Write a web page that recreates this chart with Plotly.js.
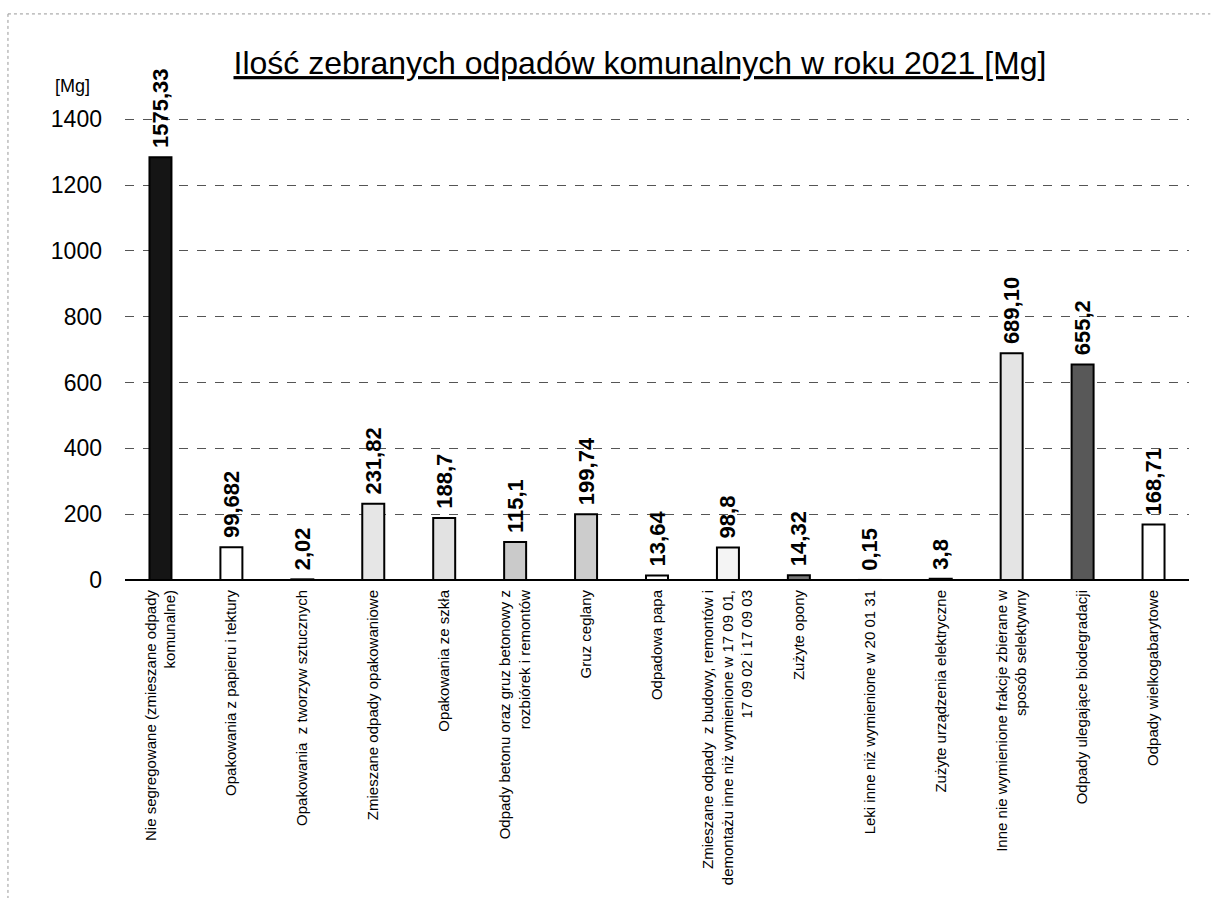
<!DOCTYPE html>
<html>
<head>
<meta charset="utf-8">
<script src="https://cdn.plot.ly/plotly-3.0.1.min.js"></script>
<style>html,body{margin:0;padding:0;background:#fff;}#chart{width:1212px;height:898px;}</style>
</head>
<body>
<div id="chart"></div>
<script>
const categories = [
  "Nie segregowane (zmieszane odpady<br>komunalne)",
  "Opakowania z papieru i tektury",
  "Opakowania  z tworzyw sztucznych",
  "Zmieszane odpady opakowaniowe",
  "Opakowania ze szkła",
  "Odpady betonu oraz gruz betonowy z<br>rozbiórek i remontów",
  "Gruz ceglany",
  "Odpadowa papa",
  "Zmieszane odpady  z budowy, remontów i<br>demontażu inne niż wymienione w 17 09 01,<br>17 09 02 i 17 09 03",
  "Zużyte opony",
  "Leki inne niż wymienione w 20 01 31",
  "Zużyte urządzenia elektryczne",
  "Inne nie wymienione frakcje zbierane w<br>sposób selektywny",
  "Odpady ulegające biodegradacji",
  "Odpady wielkogabarytowe"
];
// bar heights as drawn in the picture (first bar is drawn shortened)
const barHeights = [1285, 99.682, 2.02, 231.82, 188.7, 115.1, 199.74, 13.64, 98.8, 14.32, 0.15, 3.8, 689.10, 655.2, 168.71];
const valueLabels = ["1575,33", "99,682", "2,02", "231,82", "188,7", "115,1", "199,74", "13,64", "98,8", "14,32", "0,15", "3,8", "689,10", "655,2", "168,71"];
const yTicks = [0, 200, 400, 600, 800, 1000, 1200, 1400];

const fillColors = ["#151515", "#ffffff", "#444444", "#e6e6e6", "#e2e2e2", "#cacaca", "#cccccc", "#ffffff", "#f4f4f4", "#777777", "#888888", "#222222", "#e4e4e4", "#585858", "#ffffff"];

const trace = {
  type: "bar",
  x: categories,
  y: barHeights,
  text: valueLabels.map(s => "\u00a0" + s),
  textposition: "outside",
  textangle: -90,
  constraintext: "none",
  cliponaxis: false,
  textfont: {family: "Liberation Sans, Arial, sans-serif", size: 22, color: "#000", weight: "bold"},
  width: 0.31,
  marker: {
    color: fillColors,
    line: {color: "#000", width: 2}
  },
  hoverinfo: "skip"
};

const layout = {
  width: 1212,
  height: 898,
  paper_bgcolor: "#fff",
  plot_bgcolor: "#fff",
  margin: {l: 125, r: 23, t: 116, b: 318},
  showlegend: false,
  font: {family: "Liberation Sans, Arial, sans-serif", color: "#000"},
  title: {
    text: '<span style="text-decoration:underline">Ilość zebranych odpadów komunalnych w roku 2021 [Mg]</span>',
    font: {size: 32, color: "#000", family: "Liberation Sans, Arial, sans-serif"},
    x: 0.528, xanchor: "center", y: 0.93, yanchor: "middle"
  },
  xaxis: {
    type: "category",
    tickangle: -90,
    tickfont: {size: 15, family: "Liberation Sans, Arial, sans-serif", color: "#000"},
    showgrid: false,
    showline: false,
    ticks: "",
    ticklabelstandoff: 6
  },
  yaxis: {
    range: [0, 1410],
    tickvals: yTicks,
    ticktext: yTicks.map(String),
    tickfont: {size: 23, family: "Liberation Sans, Arial, sans-serif", color: "#000"},
    showgrid: true,
    gridcolor: "#555",
    gridwidth: 1,
    griddash: "dash",
    zeroline: true,
    zerolinecolor: "#000",
    zerolinewidth: 1.5,
    showline: false,
    ticks: "",
    ticklabelstandoff: 22
  },
  annotations: [{
    text: "[Mg]",
    xref: "paper", yref: "paper",
    x: -0.049, y: 1.064,
    xanchor: "center", yanchor: "middle",
    showarrow: false,
    font: {size: 18, family: "Liberation Sans, Arial, sans-serif", color: "#000"}
  }],
  shapes: [
    {type: "line", xref: "paper", yref: "paper", x0: -0.11, x1: 1.02, y0: 1.22, y1: 1.22, line: {color: "#999", width: 1, dash: "dot"}},
    {type: "line", xref: "paper", yref: "paper", x0: -0.11, x1: -0.11, y0: 1.22, y1: -0.69, line: {color: "#999", width: 1, dash: "dot"}}
  ]
};

Plotly.newPlot("chart", [trace], layout, {displayModeBar: false, staticPlot: true});
</script>
</body>
</html>
